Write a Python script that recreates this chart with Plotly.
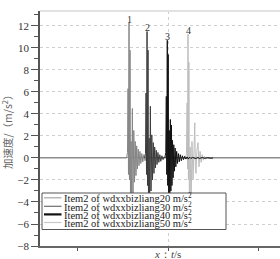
import plotly.graph_objects as go

# ---- data ----
series_names = [
    "Item2 of wdxxbizliang20 m/s<sup>2</sup>",
    "Item2 of wdxxbizliang30 m/s<sup>2</sup>",
    "Item2 of wdxxbizliang40 m/s<sup>2</sup>",
    "Item2 of wdxxbizliang50 m/s<sup>2</sup>",
]
peak_labels = ["1", "2", "3", "4"]

t20 = [0.578, 1.540, 1.550, 1.556, 1.561, 1.567, 1.572, 1.578, 1.584, 1.590, 1.596, 1.604,
       1.611, 1.620, 1.628, 1.636, 1.644, 1.652, 1.660, 1.669, 1.678, 1.688, 1.698, 1.709,
       1.720, 1.732, 1.745, 1.758, 1.772, 1.787, 1.800, 3.244]
a20 = [0, 0, 0.5, 6.3, -1.5, 12.3, -2.0, 9.8, -5.5, 1.5, -4.0, 4.5,
       -3.2, 2.5, -2.2, 1.5, -1.6, 1.1, -1.0, 0.8, -0.7, 0.6, -0.5, 0.4,
       -0.35, 0.3, -0.25, 0.2, -0.15, 0.1, 0, 0]

t30 = [1.740, 1.750, 1.756, 1.761, 1.767, 1.772, 1.778, 1.784, 1.790, 1.796, 1.804, 1.811,
       1.820, 1.828, 1.836, 1.844, 1.852, 1.860, 1.869, 1.878, 1.888, 1.898, 1.909, 1.920,
       1.932, 1.945, 1.958, 1.970]
a30 = [0, 0.4, 5.9, -1.5, 11.5, -2.5, 9.8, -6.0, 1.8, -4.5, 4.7, -3.0,
       2.1, -2.0, 1.4, -1.4, 1.0, -0.9, 0.7, -0.6, 0.5, -0.4, 0.3, -0.3,
       0.2, -0.15, 0.1, 0]

t40 = [1.965, 1.975, 1.981, 1.986, 1.992, 1.997, 2.002, 2.008, 2.014, 2.020, 2.026, 2.032,
       2.038, 2.044, 2.050, 2.057, 2.064, 2.071, 2.079, 2.087, 2.096, 2.105, 2.115, 2.125,
       2.136, 2.148, 2.160, 2.172, 2.185, 2.198, 2.212, 2.226, 2.240, 2.255, 2.270, 2.290,
       2.310, 2.330, 2.350, 2.380, 2.410, 2.440, 2.470, 2.500]
a40 = [0, 0.5, 5.6, -1.5, 10.7, -2.5, 9.4, -6.0, 2.5, -4.5, 3.5, -3.0,
       3.0, -2.5, 1.6, -1.8, 1.2, -1.2, 0.9, -0.8, 0.6, -0.5, 0.4, -0.35,
       0.3, -0.25, 0.2, -0.15, 0.15, -0.1, 0.1, -0.1, 0.08, -0.05, 0.05, 0,
       -0.05, 0.05, -0.04, 0.04, -0.03, 0.03, -0.02, 0]

t50 = [2.195, 2.205, 2.212, 2.217, 2.222, 2.227, 2.232, 2.238, 2.246, 2.256, 2.266, 2.278,
       2.290, 2.297, 2.304, 2.311, 2.320, 2.333, 2.344, 2.356, 2.368, 2.380, 2.393, 2.406,
       2.420, 2.435]
a50 = [0, 0.4, 5.0, -1.0, 11.25, -2.0, 8.7, -6.0, 1.0, -5.0, 1.5, -2.0,
       1.0, 3.2, -0.8, -1.4, 0.6, 1.4, -0.8, 0.6, -0.4, 0.3, -0.2, 0.15,
       -0.1, 0]

y_ticks = [-8, -6, -4, -2, 0, 2, 4, 6, 8, 10, 12]

# ---- styling ----
colors = ["#858585", "#3c3c3c", "#111111", "#bdbdbd"]
legend_colors = ["#a8a8a8", "#6e6e6e", "#111111", "#c8c8c8"]
legend_widths = [1.2, 1.2, 2.2, 1.2]
serif = "Liberation Serif, Times New Roman, serif"

data = [(t20, a20), (t30, a30), (t40, a40), (t50, a50)]
fig = go.Figure()
for idx in [0, 3, 1, 2]:
    t, a = data[idx]
    fig.add_trace(go.Scatter(x=t, y=a, mode="lines", name=series_names[idx],
                             line=dict(color=colors[idx], width=1), showlegend=False))

# peak labels
for idx, (t, a) in enumerate(data):
    m = max(a)
    fig.add_annotation(x=t[a.index(m)], y=m, text=peak_labels[idx], showarrow=False,
                       yanchor="bottom", yshift=-4,
                       font=dict(family=serif, size=10, color="#333333"))

# manual legend box
L, T = 40, 11
W, H = 240, 235
def px(x): return (x - L) / W
def py(y): return (T + H - y) / H

fig.add_shape(type="rect", xref="paper", yref="paper",
              x0=px(42), x1=px(226), y0=py(229.5), y1=py(193),
              line=dict(color="#555555", width=1), fillcolor="white", layer="above")
rows = [197.8, 206.3, 214.4, 222.5]
for i, name in enumerate(series_names):
    fig.add_shape(type="line", xref="paper", yref="paper",
                  x0=px(44), x1=px(61.5), y0=py(rows[i]), y1=py(rows[i]),
                  line=dict(color=legend_colors[i], width=legend_widths[i]), layer="above")
    fig.add_annotation(xref="paper", yref="paper", x=px(62), y=py(rows[i]),
                       text=name, showarrow=False, xanchor="left", yanchor="middle",
                       font=dict(family=serif, size=10.5, color="#222222"))

# top light border
fig.add_shape(type="line", xref="paper", yref="paper", x0=0, x1=1, y0=1, y1=1,
              line=dict(color="#e2e2e2", width=2))

# axis titles
fig.add_annotation(xref="paper", yref="paper", x=px(7), y=py(130),
                   text="加速度/（m/s<sup>2</sup>）", textangle=-90, showarrow=False,
                   xanchor="center", yanchor="middle",
                   font=dict(family="Noto Sans CJK SC", size=10.5, color="#666666"))
fig.add_annotation(xref="paper", yref="paper", x=px(167), y=py(254),
                   text="<i>x</i>：<i>t</i>/s", showarrow=False,
                   xanchor="center", yanchor="middle",
                   font=dict(family=serif, size=11, color="#444444"))

fig.update_layout(
    width=280, height=259,
    margin=dict(l=L, r=0, t=T, b=259 - T - H),
    paper_bgcolor="white", plot_bgcolor="white",
    showlegend=False,
)
fig.update_xaxes(
    range=[0.578, 3.244], showticklabels=False,
    tickmode="array", tickvals=[2], ticks="outside", ticklen=3, tickcolor="#555555",
    showgrid=True, gridcolor="#cfcfcf", griddash="dot", gridwidth=1,
    minor=dict(tickmode="array", tickvals=[1, 3], ticks="outside", ticklen=3,
               tickcolor="#555555", showgrid=False),
    showline=True, linecolor="#666666", linewidth=1.5, zeroline=False,
)
fig.update_yaxes(
    range=[-8, 13.36], tickmode="array", tickvals=y_ticks,
    ticks="outside", ticklen=7, tickcolor="#555555", tickwidth=1,
    tickfont=dict(family=serif, size=11, color="#333333"),
    minor=dict(tickmode="linear", tick0=-7, dtick=2, ticks="outside", ticklen=4,
               tickcolor="#555555", showgrid=False),
    showgrid=True, gridcolor="#cfcfcf", griddash="dot", gridwidth=1,
    showline=True, linecolor="#555555", linewidth=1.5,
    zeroline=True, zerolinecolor="#9a9a9a", zerolinewidth=1,
)

fig.write_html("out.html")
